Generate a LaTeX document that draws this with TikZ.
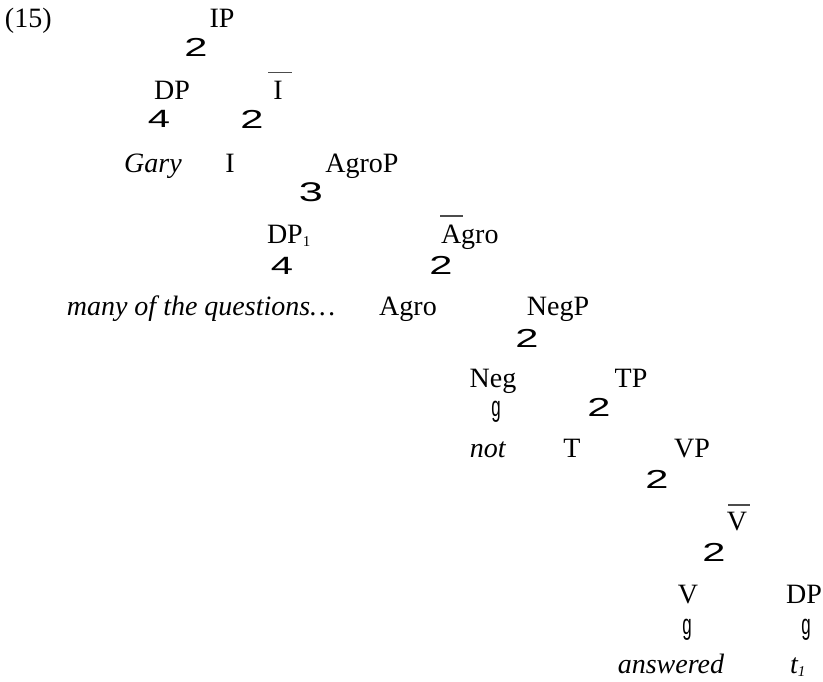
\documentclass[tikz,border=0pt]{standalone}
\usepackage{fontspec}
\setmainfont{Liberation Serif}
\newfontfamily\brfont{Liberation Sans}
\usepackage{graphicx}
\newcommand{\brtwo}{{\brfont\fontsize{26}{26}\selectfont\scalebox{1.6}[1]{2}}}
\newcommand{\brfour}{{\brfont\fontsize{25}{25}\selectfont\scalebox{1.6}[1]{4}}}
\newcommand{\brthree}{{\brfont\fontsize{27}{27}\selectfont\scalebox{1.6}[1]{3}}}
\newcommand{\brline}{{\brfont\fontsize{26}{26}\selectfont\scalebox{0.65}[1.1]{g}}}
\begin{document}
\begin{tikzpicture}[x=1pt,y=-1pt,
  every node/.style={inner sep=0pt,outer sep=0pt,font=\fontsize{28}{33}\selectfont},
  lab/.style={anchor=base},
  labw/.style={anchor=base west},
  br/.style={anchor=center},
  bar/.style={draw=black!70,line width=1.3pt}]
\useasboundingbox (0,0) rectangle (823,681);
% row 0
\node[labw] (ex) at (5,27) {(15)};
\node[lab] (ip) at (222,27) {IP};
\node[br] (b1) at (196,47) {\brtwo};
% row 1
\node[lab] (dp) at (172,99) {DP};
\node[lab] (ibar) at (278,99) {I};
\draw[bar] (268,72.5) -- (292,72.5);
\node[br] (b2) at (159,119) {\brfour};
\node[br] (b3) at (252,119) {\brtwo};
% row 2
\node[lab] (gary) at (153,172) {\textit{Gary}};
\node[lab] (i) at (230,172) {I};
\node[lab] (agrop) at (362,172) {AgroP};
\node[br] (b4) at (311,192) {\brthree};
% row 3
\node[labw] (dp1) at (267,243) {DP\textsubscript{\fontsize{15}{15}\selectfont 1}};
\node[labw] (agrobar) at (441,243) {Agro};
\draw[bar] (440,216) -- (463,216);
\node[br] (b5) at (282,266) {\brfour};
\node[br] (b6) at (441,265) {\brtwo};
% row 4
\node[lab] (many) at (201,315) {\textit{many of the questions…}};
\node[lab] (agro) at (408,315) {Agro};
\node[lab] (negp) at (558,315) {NegP};
\node[br] (b7) at (527,338) {\brtwo};
% row 5
\node[lab] (neg) at (493,387) {Neg};
\node[lab] (tp) at (631,387) {TP};
\node[br] (b8) at (496,412) {\brline};
\node[br] (b9) at (599,407) {\brtwo};
% row 6
\node[lab] (not) at (488,457) {\textit{not}};
\node[lab] (t) at (572,457) {T};
\node[lab] (vp) at (692,457) {VP};
\node[br] (b10) at (657,479) {\brtwo};
% row 7
\node[lab] (vbar) at (737,530) {V};
\draw[bar] (728,505) -- (750,505);
\node[br] (b11) at (714,552) {\brtwo};
% row 8
\node[lab] (v) at (688,603) {V};
\node[lab] (dp2) at (804,603) {DP};
\node[br] (b12) at (687,630) {\brline};
\node[br] (b13) at (806,630) {\brline};
% row 9
\node[lab] (ans) at (671,673) {\textit{answered}};
\node[labw] (t1) at (790,673) {\textit{t\textsubscript{\fontsize{15}{15}\selectfont 1}}};
\end{tikzpicture}
\end{document}
